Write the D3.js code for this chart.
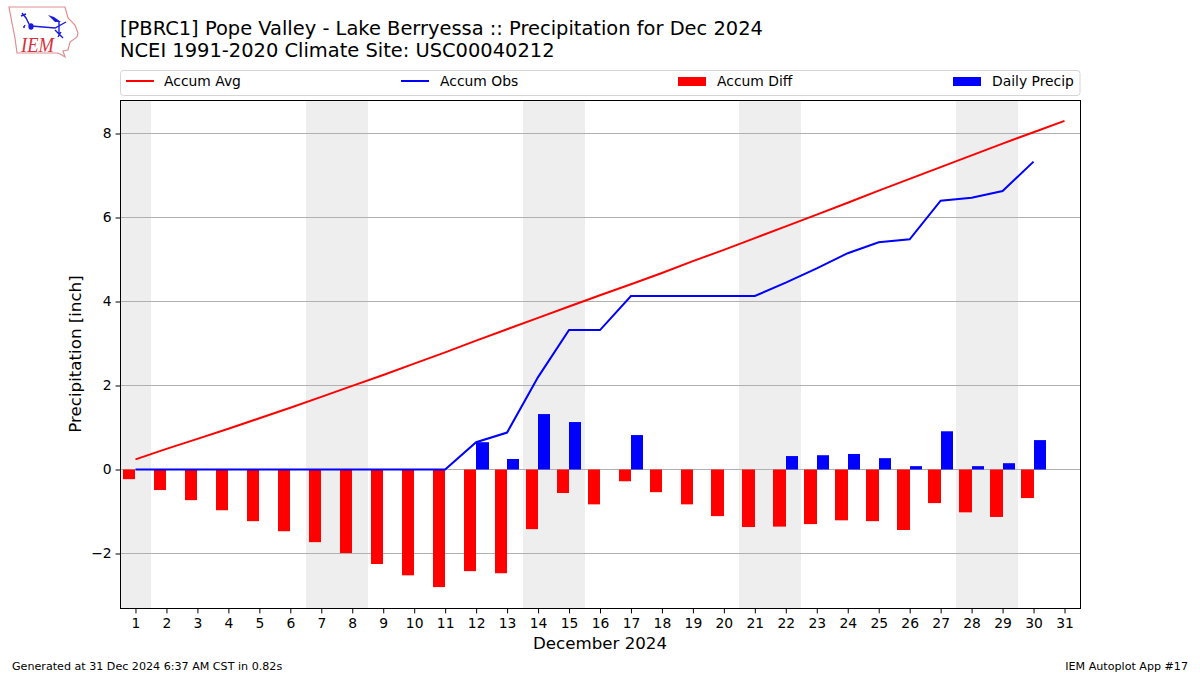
<!DOCTYPE html>
<html><head><meta charset="utf-8">
<script src="https://cdn.jsdelivr.net/npm/d3@7/dist/d3.min.js"></script>
<style>html,body{margin:0;padding:0;background:#fff}svg{display:block}text{font-family:"DejaVu Sans",sans-serif;fill:#000}</style>
</head><body><svg id="c" width="1200" height="675"></svg>
<script>
const days = d3.range(1, 32);
const accumAvg = [0.24,0.49,0.73,0.97,1.22,1.47,1.73,1.99,2.25,2.52,2.79,3.07,3.34,3.61,3.88,4.15,4.41,4.68,4.96,5.23,5.51,5.79,6.07,6.35,6.64,6.92,7.20,7.48,7.76,8.03,8.30];
const accumObs = [0,0,0,0,0,0,0,0,0,0,0,0.65,0.88,2.20,3.32,3.32,4.13,4.13,4.13,4.13,4.13,4.45,4.79,5.15,5.41,5.48,6.40,6.47,6.63,7.33];
const accumDiff = [-0.23,-0.49,-0.73,-0.97,-1.23,-1.47,-1.73,-1.99,-2.25,-2.52,-2.80,-2.42,-2.47,-1.42,-0.56,-0.83,-0.28,-0.54,-0.83,-1.11,-1.37,-1.36,-1.30,-1.21,-1.23,-1.44,-0.80,-1.02,-1.13,-0.68];
const dailyPrecip = [0,0,0,0,0,0,0,0,0,0,0,0.65,0.25,1.32,1.13,0,0.82,0,0,0,0,0.32,0.34,0.37,0.27,0.08,0.91,0.08,0.15,0.70];
const weekendDays = [1,7,8,14,15,21,22,28,29];
const yTicks = [-2,0,2,4,6,8];
const titleLines = ["[PBRC1] Pope Valley - Lake Berryessa :: Precipitation for Dec 2024","NCEI 1991-2020 Climate Site: USC00040212"];
const legendItems = [["Accum Avg","line","#f00"],["Accum Obs","line","#00f"],["Accum Diff","bar","#f00"],["Daily Precip","bar","#00f"]];

const svg = d3.select("#c");
const L=120.5,R=1080.5,T=100.5,B=608.5;
const x = d3.scaleLinear().domain([0.5,31.5]).range([120,1080]);
const y = d3.scaleLinear().domain([0,8]).range([469.5,133.5]);
const unit = x(1)-x(0), bw = unit*0.4;

// logo
const logo = svg.append("g").attr("fill","none");
logo.append("path").attr("d","M9 7 L65 7 L68 18 L75 25 L78 33 L77 37 L70 42 L68 50 L63 51 L65 57 L60 54 L57 53 L17 53 L15 38 L12 23 Z").attr("stroke","#e28d91").attr("stroke-width",1.2);
logo.append("path").attr("d","M22 13 L26 18 L30 26 M21 16 L26 14 M31 26 L55 28 L66 22 M59 21 L59 35 M55 30 L63 38 M61 32 L58 37").attr("stroke","#1a1ae0").attr("stroke-width",1.4);
logo.append("ellipse").attr("cx",31).attr("cy",26.5).attr("rx",2.6).attr("ry",3.2).attr("fill","#1a1ae0");
logo.append("path").attr("d","M48 15 L54 17 L61 22 L55 22 Z").attr("fill","#1a1ae0");
logo.append("path").attr("d","M23 27 L25 27 M24.5 25 L25 26").attr("stroke","#1a1ae0").attr("stroke-width",1.5);
logo.append("text").attr("x",21).attr("y",52).attr("textLength",33).attr("lengthAdjust","spacingAndGlyphs").text("IEM").style("font-family","'Liberation Serif',serif").style("font-style","italic").style("font-size","21px").style("fill","#d8303a");

// titles
titleLines.forEach((t,i)=>svg.append("text").attr("x",120).attr("y",35+i*22).style("font-size","19.44px").text(t));

// legend
svg.append("rect").attr("x",120.5).attr("y",70.5).attr("width",959.5).attr("height",25).attr("rx",3).attr("fill","#fff").attr("stroke","#d5d5d5");
const legX=[126,401,678,953], legT=[164,440,717,992];
legendItems.forEach((d,i)=>{
  if(d[1]==="line") svg.append("line").attr("x1",legX[i]).attr("x2",legX[i]+28).attr("y1",81).attr("y2",81).attr("stroke",d[2]).attr("stroke-width",2);
  else svg.append("rect").attr("x",legX[i]).attr("y",77).attr("width",28).attr("height",9).attr("fill",d[2]);
  svg.append("text").attr("x",legT[i]).attr("y",86).style("font-size","13.89px").text(d[0]);
});

// plot
const defs = svg.append("defs");
defs.append("clipPath").attr("id","pc").append("rect").attr("x",L).attr("y",T).attr("width",R-L).attr("height",B-T);
const plot = svg.append("g").attr("clip-path","url(#pc)");
plot.selectAll(".we").data(weekendDays).join("rect").attr("x",d=>Math.round(x(d-0.5))).attr("width",d=>Math.round(x(d+0.5))-Math.round(x(d-0.5))).attr("y",T).attr("height",B-T).attr("fill","#eee");
plot.selectAll(".gr").data(yTicks).join("line").attr("x1",L).attr("x2",R).attr("y1",d=>y(d)).attr("y2",d=>y(d)).attr("stroke","#b0b0b0").attr("stroke-width",1);
plot.selectAll(".df").data(accumDiff).join("rect").attr("x",(d,i)=>Math.round(x(days[i])-bw)).attr("width",(d,i)=>Math.round(x(days[i]))-Math.round(x(days[i])-bw)).attr("y",y(0)).attr("height",d=>y(d)-y(0)).attr("fill","#f00");
plot.selectAll(".dp").data(dailyPrecip).join("rect").attr("x",(d,i)=>Math.round(x(days[i]))).attr("width",(d,i)=>Math.round(x(days[i])+bw)-Math.round(x(days[i]))).attr("y",d=>y(d)).attr("height",d=>y(0)-y(d)).attr("fill","#00f");
const line=d3.line().x((d,i)=>x(days[i])).y(d=>y(d));
plot.append("path").attr("d",line(accumAvg)).attr("fill","none").attr("stroke","#f00").attr("stroke-width",2);
plot.append("path").attr("d",line(accumObs)).attr("fill","none").attr("stroke","#00f").attr("stroke-width",2);

// axes
const ax=svg.append("g").attr("transform",`translate(0,${B})`).call(d3.axisBottom(x).tickValues(days).tickFormat(d3.format("d")).tickSize(4.9).tickPadding(4.5));
const ay=svg.append("g").attr("transform",`translate(${L},0)`).call(d3.axisLeft(y).tickValues(yTicks).tickFormat(d=>d<0?"\u2212"+Math.abs(d):d).tickSize(4.9).tickPadding(4));
[ax,ay].forEach(a=>{a.select(".domain").remove();a.selectAll("text").style("font-size","13.89px").style("font-family","'DejaVu Sans'");a.selectAll("line").attr("stroke","#000");});
svg.append("rect").attr("x",L).attr("y",T).attr("width",R-L).attr("height",B-T).attr("fill","none").attr("stroke","#000").attr("stroke-width",1);

svg.append("text").attr("x",600).attr("y",649).attr("text-anchor","middle").style("font-size","16.67px").text("December 2024");
svg.append("text").attr("transform","translate(81,354) rotate(-90)").attr("text-anchor","middle").style("font-size","16.67px").text("Precipitation [inch]");
svg.append("text").attr("x",12).attr("y",670).style("font-size","11.11px").text("Generated at 31 Dec 2024 6:37 AM CST in 0.82s");
svg.append("text").attr("x",1188).attr("y",670).attr("text-anchor","end").style("font-size","11.11px").text("IEM Autoplot App #17");
</script></body></html>
